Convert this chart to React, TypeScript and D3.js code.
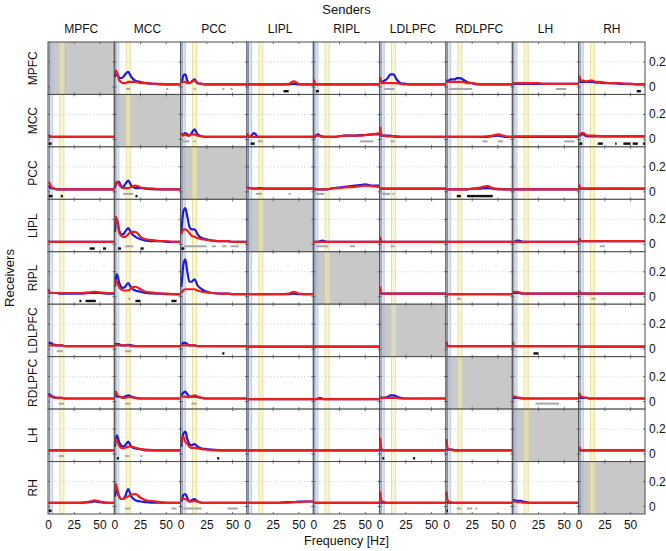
import React from 'react';
import * as d3 from 'd3';

const REGIONS = ['MPFC', 'MCC', 'PCC', 'LIPL', 'RIPL', 'LDLPFC', 'RDLPFC', 'LH', 'RH'];
const FREQS = [0, 1, 2, 4, 6, 8, 10, 13, 16, 20, 25, 30, 40, 45, 50, 57, 64];
const X_TICKS = [0, 25, 50];
const Y_TICKS = [0, 0.2];
const DELTA_BAND = [0, 4];
const ALPHA_BAND = [11, 15];

// spectral values in hundredths, one entry per sender column (null = diagonal)
const blueMPFC = [
  null,
  [8, 11, 10, 8, 7, 8, 10, 12, 8, 5, 4, 3, 2.5, 2, 2, 2, 2],
  [3, 5, 9, 10, 5, 3, 4, 6, 3, 2.5, 2, 2, 2, 2, 2, 2, 2],
  [2, 2, 2, 2, 2, 2, 2, 2, 2, 2, 2, 2, 2, 2.5, 2, 2, 2],
  [3, 2, 2, 2, 2, 2, 2, 2, 2, 2, 2, 2, 2, 2, 2, 2, 2],
  [5, 4, 4, 5, 6, 8, 10, 10, 6, 3, 2.5, 2, 2, 2, 2, 2, 2],
  [4, 5, 5, 6, 6, 6, 7, 7, 6, 4, 3, 2, 2, 2, 2, 2, 2],
  [2.5, 2.5, 2.5, 2.5, 2.5, 2.5, 2.5, 2.5, 2.5, 2.5, 2.5, 2.5, 2.5, 2.5, 2.5, 2.5, 2.5],
  [5, 4, 4, 4, 4, 4, 4, 4, 3.5, 3.5, 3, 3, 2.5, 2.5, 2.5, 2, 2],
];
const redMPFC = [
  null,
  [10, 13, 12, 6, 4, 3, 3, 4, 4, 4, 3, 3, 2.5, 2.5, 2, 2, 2],
  [4, 4, 4, 4, 3, 3, 4, 5, 3, 2.5, 2, 2, 2, 2, 2, 2, 2],
  [2, 2, 2, 2, 2, 2, 2, 2, 2, 2, 2, 2, 2.5, 4.5, 2.5, 2, 2],
  [6, 3, 2, 2, 2, 2, 2, 2, 2, 2, 2, 2, 2, 2, 2, 2, 2],
  [8, 4, 3, 3, 3, 3, 3, 3, 3, 2.5, 2, 2, 2, 2, 2, 2, 2],
  [4, 4, 4, 4, 4, 4, 4, 4, 4, 3, 3, 2.5, 2, 2, 2, 2, 2],
  [3, 3, 3, 3, 3, 3, 3, 3, 3, 3, 3, 2.5, 2.5, 2.5, 2.5, 2.5, 2.5],
  [9, 6, 5, 5, 4.5, 4.5, 5, 5, 4, 4, 3.5, 3, 3, 2.5, 2.5, 2, 2],
];
const blueMCC = [
  [3, 2.5, 2, 2, 2, 2, 2, 2, 2, 2, 2, 2, 2, 2, 2, 2, 2],
  null,
  [4, 4, 4, 5, 4, 3, 5, 8, 4, 2.5, 2, 2, 2, 2, 2, 2, 2],
  [2, 2, 2, 3, 5, 4, 2, 2, 2, 2, 2, 2, 2, 2, 2, 2, 2],
  [2, 2, 3, 4, 3, 2.5, 2, 2, 2, 2, 2.5, 3, 3, 3.5, 3.5, 4, 4],
  [3, 3, 3, 3, 3, 3, 3, 2.5, 2.5, 2, 2, 2, 2, 2, 2, 2, 2],
  [2, 2, 2, 2, 2, 2, 2, 2, 2, 2, 2, 2, 2, 2.5, 3, 2, 2],
  [2, 2, 2, 2, 2, 2, 2, 2, 2, 2, 2, 2, 2, 2, 2, 2, 2],
  [3, 3, 4, 4, 3, 2.5, 2.5, 2.5, 2.5, 2.5, 2.5, 2.5, 2.5, 2.5, 2.5, 2.5, 2.5],
];
const redMCC = [
  [4, 3, 2.5, 2, 2, 2, 2, 2, 2, 2, 2, 2, 2, 2, 2, 2, 2],
  null,
  [5, 4, 3, 4, 3, 3, 4, 4, 3, 2.5, 2, 2, 2, 2, 2, 2, 2],
  [5, 2, 2, 2, 2, 2, 2, 2, 2, 2, 2, 2, 2, 2, 2, 2, 2],
  [3, 3, 3, 3, 2.5, 2, 2, 2, 2, 2, 2.5, 3, 3, 3, 3.5, 4, 5],
  [10, 4, 3, 3, 2.5, 2.5, 2.5, 2.5, 2, 2, 2, 2, 2, 2, 2, 2, 2],
  [2, 2, 2, 2, 2, 2, 2, 2, 2, 2, 2, 2, 2.5, 3, 4, 2.5, 2],
  [2.5, 2.5, 2.5, 2.5, 2.5, 2.5, 2.5, 2.5, 2.5, 2.5, 2.5, 2.5, 2.5, 2.5, 2.5, 2.5, 2.5],
  [3, 4, 5, 5, 4, 3, 3, 3, 3, 2.5, 2.5, 2.5, 2.5, 2.5, 2.5, 2.5, 2.5],
];
const bluePCC = [
  [5, 4, 3, 3, 2.5, 2, 2, 2, 2, 2, 2, 2, 2, 2, 2, 2, 2],
  [3, 6, 8, 8, 5, 4, 6, 9, 5, 3, 3, 2.5, 2, 2, 2, 2, 2],
  null,
  [4, 3, 3, 3, 2.5, 2.5, 3, 3, 2.5, 2.5, 2.5, 2.5, 2.5, 2.5, 2.5, 2.5, 2.5],
  [3, 2, 2, 2, 2, 2, 2, 2, 2.5, 3, 3.5, 4, 5, 5.5, 6, 5, 5],
  [2.5, 2.5, 2.5, 2.5, 2.5, 2.5, 2.5, 2.5, 2.5, 2.5, 2.5, 2.5, 2.5, 2.5, 2.5, 2.5, 2.5],
  [2, 2, 2, 2, 2, 2, 2, 2, 2, 2, 2.5, 2.5, 3, 2.5, 2, 2, 2],
  [2, 2, 2, 2, 2, 2, 2, 2, 2, 2, 2, 2, 2, 2, 2, 2, 2],
  [3, 2.5, 2.5, 2.5, 2.5, 2.5, 2.5, 2.5, 2.5, 2.5, 2.5, 2.5, 2.5, 2.5, 2.5, 2.5, 2.5],
];
const redPCC = [
  [8, 7, 5, 3, 2.5, 2, 2, 2, 2, 2, 2, 2, 2, 2, 2, 2, 2],
  [4, 7, 8, 6, 4, 3, 3, 3, 4, 5, 3.5, 3, 2.5, 2, 2, 2, 2],
  null,
  [4, 3, 3, 3, 2.5, 2.5, 2.5, 2.5, 2.5, 2.5, 2.5, 2.5, 2.5, 2.5, 2.5, 2.5, 2.5],
  [3, 2.5, 2, 2, 2, 2, 2, 2, 2.5, 3, 3, 3.5, 4, 4.5, 5, 4.5, 4],
  [2.5, 2.5, 2.5, 2.5, 2.5, 2.5, 2.5, 2.5, 2.5, 2.5, 2.5, 2.5, 2.5, 2.5, 2.5, 2.5, 2.5],
  [2, 2, 2, 2, 2, 2, 2, 2, 2, 2, 2.5, 3, 4.5, 3, 2.5, 2, 2],
  [2, 2, 2, 2, 2, 2, 2, 2, 2, 2, 2, 2, 2, 2, 2, 2, 2],
  [6, 3, 2.5, 2.5, 2.5, 2.5, 2.5, 2.5, 2.5, 2.5, 2.5, 2.5, 2.5, 2.5, 2.5, 2.5, 2.5],
];
const blueLIPL = [
  [2, 2, 2, 2, 2, 2, 2, 2, 2, 2, 2, 2, 2, 2, 2, 2, 2],
  [10, 18, 20, 12, 8, 8, 10, 13, 9, 6, 4, 3, 2.5, 2.5, 2, 2, 2],
  [10, 18, 26, 29, 22, 14, 12, 12, 8, 5, 4, 3, 2.5, 2.5, 2, 2, 2],
  null,
  [2, 2, 2, 2, 2.5, 3, 2.5, 2, 2, 2, 2, 2, 2, 2, 2, 2, 2],
  [2, 2, 2, 2, 2, 2, 2, 2, 2, 2, 2, 2, 2, 2, 2, 2, 2],
  [2, 2, 2, 2, 2, 2, 2, 2, 2, 2, 2, 2, 2, 2, 2, 2, 2],
  [2, 2, 2, 3, 3, 2.5, 2, 2, 2, 2, 2, 2, 2, 2, 2, 2, 2],
  [2.5, 2.5, 2.5, 2.5, 2.5, 2.5, 2.5, 2.5, 2.5, 2.5, 2.5, 2.5, 2.5, 2.5, 2.5, 2.5, 2.5],
];
const redLIPL = [
  [3, 2, 2, 2, 2, 2, 2, 2, 2, 2, 2, 2, 2, 2, 2, 2, 2],
  [15, 22, 20, 10, 7, 6, 6, 8, 10, 10, 6, 4, 3, 2.5, 2.5, 2, 2],
  [8, 10, 12, 12, 11, 9, 7, 6, 5, 4, 3.5, 3, 2.5, 2.5, 2, 2, 2],
  null,
  [2, 2, 2, 2, 2, 2, 2, 2, 2, 2, 2, 2, 2, 2, 2, 2, 2],
  [6, 2.5, 2, 2, 2, 2, 2, 2, 2, 2, 2, 2, 2, 2, 2, 2, 2],
  [2, 2, 2, 2, 2, 2, 2, 2, 2, 2, 2, 2, 2, 2, 2, 2, 2],
  [2, 2, 2, 2, 2, 2, 2, 2, 2, 2, 2, 2, 2, 2, 2, 2, 2],
  [5, 3, 2.5, 2.5, 2.5, 2.5, 2.5, 2.5, 2.5, 2.5, 2.5, 2.5, 2.5, 2.5, 2.5, 2.5, 2.5],
];
const blueRIPL = [
  [3, 3, 3, 3, 3, 3, 2.5, 2.5, 2.5, 2.5, 2.5, 2.5, 3, 3, 3, 2.5, 2.5],
  [8, 15, 18, 12, 8, 7, 8, 11, 7, 5, 4, 3, 2.5, 2.5, 2, 2, 2],
  [8, 15, 25, 30, 20, 12, 12, 14, 9, 6, 4, 3, 2.5, 2.5, 2, 2, 2],
  [2, 2, 2, 2, 2, 2, 2, 2, 2, 2, 2, 2, 2, 2.5, 2, 2, 2],
  null,
  [3, 2.5, 2.5, 2.5, 2.5, 2.5, 2.5, 2.5, 2.5, 2.5, 2.5, 2.5, 2.5, 2.5, 2.5, 2.5, 2.5],
  [2, 2, 2, 2, 2, 2, 2, 2, 2, 2, 2, 2, 2, 2, 2, 2, 2],
  [3, 3, 3, 3, 3, 2.5, 2.5, 2.5, 2.5, 2.5, 2.5, 2.5, 2.5, 2.5, 2.5, 2.5, 2.5],
  [2.5, 2.5, 2.5, 2.5, 2.5, 2.5, 2.5, 2.5, 2.5, 2.5, 2.5, 2.5, 2.5, 2.5, 2.5, 2.5, 2.5],
];
const redRIPL = [
  [6, 4, 3, 3, 3, 3, 3, 3, 3, 3, 3, 3, 3.5, 4, 3.5, 3, 3],
  [8, 13, 12, 8, 6, 5, 5, 5, 7, 8, 6, 4, 3, 2.5, 2.5, 2, 2],
  [3, 4, 5, 6, 6, 6, 6, 6, 5, 4, 3.5, 3, 2.5, 2.5, 2, 2, 2],
  [2, 2, 2, 2, 2, 2, 2, 2, 2, 2, 2, 2, 2.5, 4, 2.5, 2, 2],
  null,
  [8, 3, 2.5, 2.5, 2.5, 2.5, 2.5, 2.5, 2.5, 2.5, 2.5, 2.5, 2.5, 2.5, 2.5, 2.5, 2.5],
  [2, 2, 2, 2, 2, 2, 2, 2, 2, 2, 2, 2, 2, 2, 2, 2, 2],
  [4, 4, 4, 4, 3.5, 3, 2.5, 2.5, 2.5, 2.5, 2.5, 2.5, 2.5, 2.5, 2.5, 2.5, 2.5],
  [5, 3, 2.5, 2.5, 2.5, 2.5, 2.5, 2.5, 2.5, 2.5, 2.5, 2.5, 2.5, 2.5, 2.5, 2.5, 2.5],
];
const blueLDLPFC = [
  [5, 5, 5, 4, 3.5, 3, 3, 3, 2.5, 2.5, 2.5, 2.5, 2.5, 2.5, 2.5, 2.5, 2.5],
  [4, 4, 4, 4, 3, 3, 3, 3.5, 3, 2.5, 2.5, 2.5, 2.5, 2.5, 2.5, 2.5, 2.5],
  [4, 4, 5, 5, 4, 3, 3, 3, 2.5, 2.5, 2.5, 2.5, 2.5, 2.5, 2.5, 2.5, 2.5],
  [2, 2, 2, 2, 2, 2, 2, 2, 2, 2, 2, 2, 2, 2, 2, 2, 2],
  [2, 2, 2, 2, 2, 2, 2, 2, 2, 2, 2, 2, 2, 2, 2, 2, 2],
  null,
  [3, 2.5, 2.5, 2.5, 2.5, 2.5, 2.5, 2.5, 2.5, 2.5, 2.5, 2.5, 2.5, 2.5, 2.5, 2.5, 2.5],
  [2.5, 2.5, 2.5, 2.5, 2.5, 2.5, 2.5, 2.5, 2.5, 2.5, 2.5, 2.5, 2.5, 2.5, 2.5, 2.5, 2.5],
  [2, 2, 2, 2, 2, 2, 2, 2, 2, 2, 2, 2, 2, 2, 2, 2, 2],
];
const redLDLPFC = [
  [3, 3, 3, 3, 3, 3, 3, 3, 2.5, 2.5, 2.5, 2.5, 2.5, 2.5, 2.5, 2.5, 2.5],
  [3, 3, 3, 3, 3, 3, 3, 3, 2.5, 2.5, 2.5, 2.5, 2.5, 2.5, 2.5, 2.5, 2.5],
  [3, 3, 3, 3, 3, 3, 3, 3, 2.5, 2.5, 2.5, 2.5, 2.5, 2.5, 2.5, 2.5, 2.5],
  [2, 2, 2, 2, 2, 2, 2, 2, 2, 2, 2, 2, 2, 2, 2, 2, 2],
  [2, 2, 2, 2, 2, 2, 2, 2, 2, 2, 2, 2, 2, 2, 2, 2, 2],
  null,
  [6, 3, 2.5, 2.5, 2.5, 2.5, 2.5, 2.5, 2.5, 2.5, 2.5, 2.5, 2.5, 2.5, 2.5, 2.5, 2.5],
  [6, 3, 2.5, 2.5, 2.5, 2.5, 2.5, 2.5, 2.5, 2.5, 2.5, 2.5, 2.5, 2.5, 2.5, 2.5, 2.5],
  [3, 2, 2, 2, 2, 2, 2, 2, 2, 2, 2, 2, 2, 2, 2, 2, 2],
];
const blueRDLPFC = [
  [5, 6, 5, 4, 3.5, 3, 3, 3, 2.5, 2.5, 2.5, 2.5, 2.5, 2.5, 2.5, 2.5, 2.5],
  [5, 5, 4, 4, 3.5, 3.5, 4, 5, 4, 3, 2.5, 2.5, 2.5, 2.5, 2.5, 2.5, 2.5],
  [5, 6, 7, 8, 6, 4, 4, 4, 3.5, 3, 2.5, 2.5, 2.5, 2.5, 2.5, 2.5, 2.5],
  [2, 2, 2, 2, 2, 2, 2, 2, 2, 2, 2, 2, 2, 2, 2, 2, 2],
  [2, 2, 2, 2.5, 3, 2.5, 2, 2, 2, 2, 2, 2, 2, 2, 2, 2, 2],
  [3, 3, 3, 3, 3.5, 4, 5, 5, 4, 3, 2.5, 2.5, 2.5, 2.5, 2.5, 2.5, 2.5],
  null,
  [3, 3, 3, 3, 3, 2.5, 2.5, 2.5, 2.5, 2.5, 2.5, 2.5, 2.5, 2.5, 2.5, 2.5, 2.5],
  [3, 3, 3, 3, 3, 3, 2.5, 2.5, 2.5, 2.5, 2.5, 2.5, 2.5, 2.5, 2.5, 2.5, 2.5],
];
const redRDLPFC = [
  [4, 5, 4, 3.5, 3, 3, 3, 3, 2.5, 2.5, 2.5, 2.5, 2.5, 2.5, 2.5, 2.5, 2.5],
  [6, 8, 6, 4, 3.5, 3, 3, 3.5, 3.5, 3, 2.5, 2.5, 2.5, 2.5, 2.5, 2.5, 2.5],
  [4, 4, 4, 4, 3.5, 3.5, 4, 5, 4, 3, 2.5, 2.5, 2.5, 2.5, 2.5, 2.5, 2.5],
  [2, 2, 2, 2, 2, 2, 2, 2, 2, 2, 2, 2, 2, 2, 2, 2, 2],
  [2, 2, 2, 2, 2, 2, 2, 2, 2, 2, 2, 2, 2, 2, 2, 2, 2],
  [4, 3, 3, 3, 3, 3, 3, 3, 3, 2.5, 2.5, 2.5, 2.5, 2.5, 2.5, 2.5, 2.5],
  null,
  [4, 4, 4, 3.5, 3, 3, 2.5, 2.5, 2.5, 2.5, 2.5, 2.5, 2.5, 2.5, 2.5, 2.5, 2.5],
  [7, 5, 4, 3.5, 3, 3, 2.5, 2.5, 2.5, 2.5, 2.5, 2.5, 2.5, 2.5, 2.5, 2.5, 2.5],
];
const blueLH = [
  [3, 3, 3, 3, 3, 3, 3, 3, 3, 3, 3, 3, 3, 3, 3, 3, 3],
  [6, 12, 15, 10, 7, 6, 7, 10, 6, 4.5, 4, 3, 3, 3, 3, 3, 3],
  [6, 12, 16, 18, 12, 8, 7, 8, 6, 4.5, 4, 3.5, 3, 3, 3, 3, 3],
  [3, 3, 3, 3, 3, 3, 3, 3, 3, 3, 3, 3, 3, 3, 3, 3, 3],
  [3, 3, 3, 3, 3, 3, 3, 3, 3, 3, 3, 3, 3, 3, 3, 3, 3],
  [4, 3, 3, 3, 3, 3, 3, 3, 3, 3, 3, 3, 3, 3, 3, 3, 3],
  [3, 3.5, 3.5, 3.5, 3.5, 3, 3, 3, 3, 3, 3, 3, 3, 3, 3, 3, 3],
  null,
  [3, 3, 3, 3, 3, 3, 3, 3, 3, 3, 3, 3, 3, 3, 3, 3, 3],
];
const redLH = [
  [3, 3, 3, 3, 3, 3, 3, 3, 3, 3, 3, 3, 3, 3, 3, 3, 3],
  [8, 12, 11, 7, 5, 4.5, 5, 6, 6, 5, 4, 3.5, 3, 3, 3, 3, 3],
  [8, 13, 14, 10, 8, 6, 5, 5, 4.5, 4, 3.5, 3, 3, 3, 3, 3, 3],
  [3, 3, 3, 3, 3, 3, 3, 3, 3, 3, 3, 3, 3, 3, 3, 3, 3],
  [3, 3, 3, 3, 3, 3, 3, 3, 3, 3, 3, 3, 3, 3, 3, 3, 3],
  [13, 5, 3.5, 3, 3, 3, 3, 3, 3, 3, 3, 3, 3, 3, 3, 3, 3],
  [12, 5, 4, 3.5, 3, 3, 3, 3, 3, 3, 3, 3, 3, 3, 3, 3, 3],
  null,
  [6, 3.5, 3, 3, 3, 3, 3, 3, 3, 3, 3, 3, 3, 3, 3, 3, 3],
];
const blueRH = [
  [3, 3, 3, 3, 3, 3, 3, 3, 3, 3, 3, 3, 3.5, 4, 3.5, 3, 3],
  [8, 13, 12, 8, 6, 6, 8, 14, 8, 5, 4, 3.5, 3, 3, 3, 3, 3],
  [4, 6, 9, 10, 7, 4, 5, 6, 4, 3, 3, 3, 3, 3, 3, 3, 3],
  [3, 3, 3, 3, 3, 3, 3, 3, 3, 3, 3, 3, 3.5, 3.5, 4, 4, 4],
  [3, 3, 3, 3, 3, 3, 3, 3, 3, 3, 3, 3, 3, 3, 3, 3, 3],
  [3, 3, 3, 3, 3, 3, 3, 3, 3, 3, 3, 3, 3, 3, 3, 3, 3],
  [4, 3, 3, 3, 3, 3, 3, 3, 3, 3, 3, 3, 3, 3, 3, 3, 3],
  [5, 5, 5, 4.5, 4.5, 4.5, 4, 3.5, 3, 3, 3, 3, 3, 3, 3, 3, 3],
  null,
];
const redRH = [
  [3.5, 3, 3, 3, 3, 3, 3, 3, 3, 3, 3, 3, 4, 5, 4, 3, 3],
  [12, 18, 15, 9, 6, 6, 7, 8, 9.5, 10, 7, 5, 4, 3.5, 3, 3, 3],
  [5, 6, 6, 6, 5, 4, 4, 4.5, 4, 3, 3, 3, 3, 3, 3, 3, 3],
  [3, 3, 3, 3, 3, 3, 3, 3, 3, 3, 3, 3, 3, 3.5, 3.5, 4, 4],
  [3, 3, 3, 3, 3, 3, 3, 3, 3, 3, 3, 3, 3, 3, 3, 3, 3],
  [12, 5, 4, 3.5, 3, 3, 3, 3, 3, 3, 3, 3, 3, 3, 3, 3, 3],
  [12, 5, 4, 3.5, 3, 3, 3, 3, 3, 3, 3, 3, 3, 3, 3, 3, 3],
  [4, 4, 4, 3.5, 3.5, 3.5, 3, 3, 3, 3, 3, 3, 3, 3, 3, 3, 3],
  null,
];

// significance intervals [fromHz, toHz]
const grayMPFC = [[], [[11, 15], [50, 52]], [[12, 14], [40, 42], [48, 50]], [], [], [[4, 14]], [[2, 25]], [[42, 52]], []];
const blackMPFC = [[], [], [], [[35, 40]], [[2, 5]], [], [], [], [[56, 60]]];
const grayMCC = [[], [], [[1, 8], [12, 14]], [[10, 15]], [[45, 58]], [[10, 14]], [[35, 40], [50, 55]], [[50, 60]], []];
const blackMCC = [[[0, 3]], [], [], [[3, 7]], [], [], [], [], [[0, 3], [18, 23], [35, 36], [43, 50], [52, 57], [62, 64]]];
const grayPCC = [[], [[8, 18]], [], [[8, 14], [40, 42]], [[2, 10]], [[2, 10], [12, 14]], [], [], []];
const blackPCC = [[[0, 4], [12, 14]], [[20, 22]], [], [], [], [], [[10, 14], [20, 45]], [], []];
const grayLIPL = [[], [[10, 18]], [[3, 25], [30, 34], [40, 44], [48, 56]], [], [[2, 14], [35, 40]], [[10, 14]], [], [], [[20, 25]]];
const blackLIPL = [[[40, 45], [53, 56]], [[3, 6], [25, 28]], [[0, 3]], [], [], [], [], [], []];
const grayRIPL = [[], [[13, 15]], [], [], [], [], [[10, 14]], [], [[12, 16]]];
const blackRIPL = [[[30, 32], [36, 46]], [[20, 25], [55, 60]], [], [], [], [], [], [], []];
const grayLDLPFC = [[[8, 14]], [[10, 16]], [], [], [], [], [], [], []];
const blackLDLPFC = [[], [], [[40, 42]], [], [], [], [], [[20, 25]], []];
const grayRDLPFC = [[[10, 15]], [[10, 15]], [[10, 15]], [], [], [], [], [[22, 45]], []];
const blackRDLPFC = [[], [], [], [], [], [], [], [], []];
const grayLH = [[[10, 15]], [[10, 14], [25, 27]], [], [], [], [], [], [], []];
const blackLH = [[], [[2, 4]], [[35, 37]], [], [], [[2, 4], [32, 34]], [], [], []];
const grayRH = [[], [[10, 15], [55, 60]], [[2, 20], [45, 55]], [], [], [], [[10, 14], [20, 25], [28, 30]], [], []];
const blackRH = [[[0, 3]], [], [], [], [], [], [[0, 1]], [], []];

const BLUE = [blueMPFC, blueMCC, bluePCC, blueLIPL, blueRIPL, blueLDLPFC, blueRDLPFC, blueLH, blueRH];
const RED = [redMPFC, redMCC, redPCC, redLIPL, redRIPL, redLDLPFC, redRDLPFC, redLH, redRH];
const GRAY = [grayMPFC, grayMCC, grayPCC, grayLIPL, grayRIPL, grayLDLPFC, grayRDLPFC, grayLH, grayRH];
const BLACK = [blackMPFC, blackMCC, blackPCC, blackLIPL, blackRIPL, blackLDLPFC, blackRDLPFC, blackLH, blackRH];

const W = 666;
const H = 551;
const GRID_L = 48;
const GRID_R = 645;
const GRID_T = 42;
const GRID_B = 514;
const FONT = 'Liberation Sans, Arial, sans-serif';

export default function App() {
  const n = REGIONS.length;
  const cw = (GRID_R - GRID_L) / n;
  const ch = (GRID_B - GRID_T) / n;
  const x = d3.scaleLinear().domain([0, 64]).range([0.5, cw]);
  const y = d3.scaleLinear().domain([-0.06, 0.36]).range([ch, 0]);
  const line = d3
    .line<number>()
    .x((_, i) => x(FREQS[i]))
    .y((v) => y(v / 100))
    .curve(d3.curveMonotoneX);

  const cells: React.ReactNode[] = [];
  for (let r = 0; r < n; r++) {
    for (let c = 0; c < n; c++) {
      const diag = r === c;
      const blue = BLUE[r][c];
      const red = RED[r][c];
      cells.push(
        <g key={`${r}-${c}`} transform={`translate(${GRID_L + c * cw},${GRID_T + r * ch})`}>
          <rect x={0} y={0} width={cw} height={ch} fill={diag ? '#c8c8c8' : '#ffffff'} />
          <rect
            x={x(DELTA_BAND[0])}
            y={0}
            width={x(DELTA_BAND[1]) - x(DELTA_BAND[0])}
            height={ch}
            fill="#9fb0d8"
            fillOpacity={0.35}
          />
          <line x1={x(DELTA_BAND[1])} x2={x(DELTA_BAND[1])} y1={0} y2={ch} stroke="#b4c0dc" strokeWidth={0.8} />
          <line x1={x(DELTA_BAND[0]) + 1} x2={x(DELTA_BAND[0]) + 1} y1={0} y2={ch} stroke="#8290b4" strokeWidth={1} />
          <rect
            x={x(ALPHA_BAND[0])}
            y={0}
            width={x(ALPHA_BAND[1]) - x(ALPHA_BAND[0])}
            height={ch}
            fill="#f2ecb0"
            fillOpacity={0.55}
          />
          <line x1={x(ALPHA_BAND[0])} x2={x(ALPHA_BAND[0])} y1={0} y2={ch} stroke="#e2dc90" strokeWidth={0.8} />
          <line x1={x(ALPHA_BAND[1])} x2={x(ALPHA_BAND[1])} y1={0} y2={ch} stroke="#e2dc90" strokeWidth={0.8} />
          {!diag && (
            <line x1={0} x2={cw} y1={y(0.2)} y2={y(0.2)} stroke="#c8c8c8" strokeWidth={0.8} strokeDasharray="1,2" />
          )}
          {GRAY[r][c].map((iv, k) => (
            <rect key={`g${k}`} x={x(iv[0])} y={y(-0.016) - 1} width={Math.max(1.5, x(iv[1]) - x(iv[0]))} height={2} fill="#a8a8a8" />
          ))}
          {BLACK[r][c].map((iv, k) => (
            <rect key={`b${k}`} x={x(iv[0])} y={y(-0.034) - 1.2} width={Math.max(1.5, x(iv[1]) - x(iv[0]))} height={2.4} fill="#111111" />
          ))}
          {blue && <path d={line(blue) || ''} fill="none" stroke="#1a1ae6" strokeWidth={2.2} strokeLinejoin="round" />}
          {red && <path d={line(red) || ''} fill="none" stroke="#ee1c1c" strokeWidth={2.2} strokeLinejoin="round" />}
          {X_TICKS.slice(1).map((t) => (
            <g key={`xt${t}`}>
              <line x1={x(t)} x2={x(t)} y1={0} y2={2} stroke="#555" strokeWidth={0.8} />
              <line x1={x(t)} x2={x(t)} y1={ch} y2={ch - 2} stroke="#555" strokeWidth={0.8} />
            </g>
          ))}
          {Y_TICKS.map((t) => (
            <g key={`yt${t}`}>
              <line x1={0} x2={2} y1={y(t)} y2={y(t)} stroke="#555" strokeWidth={0.8} />
              <line x1={cw} x2={cw - 2} y1={y(t)} y2={y(t)} stroke="#555" strokeWidth={0.8} />
            </g>
          ))}
          <rect x={0} y={0} width={cw} height={ch} fill="none" stroke="#4a4a4a" strokeWidth={1} />
        </g>
      );
    }
  }

  return (
    <svg
      width={W}
      height={H}
      style={{ position: 'absolute', left: 0, top: 0, background: '#fff' }}
      fontFamily={FONT}
    >
      <rect x={0} y={0} width={W} height={H} fill="#fff" />
      <text x={(GRID_L + GRID_R) / 2} y={14} fontSize={13} textAnchor="middle" fill="#111">
        Senders
      </text>
      {REGIONS.map((name, c) => (
        <text key={`col${name}`} x={GRID_L + (c + 0.5) * cw} y={33} fontSize={12} textAnchor="middle" fill="#111">
          {name}
        </text>
      ))}
      <text
        transform={`translate(14,${(GRID_T + GRID_B) / 2}) rotate(-90)`}
        fontSize={13}
        textAnchor="middle"
        fill="#111"
      >
        Receivers
      </text>
      {REGIONS.map((name, r) => (
        <text
          key={`row${name}`}
          transform={`translate(37,${GRID_T + (r + 0.5) * ch}) rotate(-90)`}
          fontSize={12}
          textAnchor="middle"
          fill="#111"
        >
          {name}
        </text>
      ))}
      {cells}
      {REGIONS.map((name, r) =>
        Y_TICKS.map((t) => (
          <text
            key={`yl${name}${t}`}
            x={GRID_R + 4}
            y={GRID_T + r * ch + y(t) + 4}
            fontSize={12}
            fill="#111"
          >
            {t === 0 ? '0' : String(t)}
          </text>
        ))
      )}
      {REGIONS.map((name, c) =>
        X_TICKS.map((t) => (
          <text
            key={`xl${name}${t}`}
            x={GRID_L + c * cw + x(t)}
            y={529}
            fontSize={12}
            textAnchor="middle"
            fill="#111"
          >
            {t}
          </text>
        ))
      )}
      <text x={(GRID_L + GRID_R) / 2} y={545} fontSize={12.5} textAnchor="middle" fill="#111">
        Frequency [Hz]
      </text>
    </svg>
  );
}
